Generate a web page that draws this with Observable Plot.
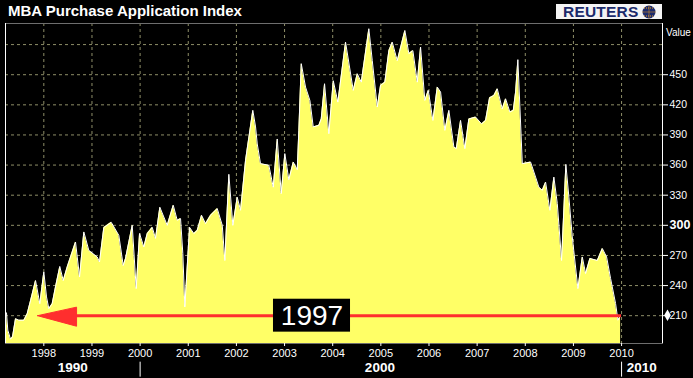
<!DOCTYPE html>
<html>
<head>
<meta charset="utf-8">
<script src="https://cdn.jsdelivr.net/npm/d3@7"></script>
<script src="https://cdn.jsdelivr.net/npm/@observablehq/plot@0.6"></script>
<style>
  html, body { margin: 0; padding: 0; background: #000; }
  #wrap { position: relative; width: 693px; height: 378px; overflow: hidden; background: #000; font-family: "Liberation Sans", Arial, sans-serif; }
  #title { position: absolute; left: 8px; top: 2px; color: #fff; font-size: 15px; font-weight: bold; white-space: nowrap; }
  #logo { position: absolute; left: 556px; top: 4px; width: 106px; height: 15px; background: #f4f4f4; display: flex; align-items: center; }
  #logo span { color: #1b2a6b; font-weight: bold; font-size: 15.5px; margin-left: 7px; letter-spacing: 0.2px; line-height: 15px; }
  #logo svg { margin-left: 3px; }
  #valueLbl { position: absolute; left: 666px; top: 27px; color: #fff; font-size: 10px; }
</style>
</head>
<body>
<div id="wrap">
  <div id="chart"></div>
  <div id="title">MBA Purchase Application Index</div>
  <div id="logo"><span>REUTERS</span><svg width="16" height="14" viewBox="0 0 16 14"><circle cx="8" cy="7" r="6.5" fill="#1b2a6b"/><path d="M8 0.5 V13.5 M1.5 7 H14.5 M3 3 H13 M3 11 H13" stroke="#f0a020" stroke-width="1" stroke-dasharray="1,1"/></svg></div>
  <div id="valueLbl">Value</div>
</div>
<script>
// Weekly index readings (decimal year, index value)
const dates = [1997.225,1997.252,1997.308,1997.350,1997.412,1997.481,1997.585,1997.655,1997.724,1997.828,1997.917,1998.000,1998.056,1998.104,1998.174,1998.243,1998.332,1998.403,1998.486,1998.658,1998.742,1998.831,1998.935,1999.109,1999.157,1999.246,1999.400,1999.558,1999.649,1999.697,1999.836,1999.919,1999.988,2000.077,2000.148,2000.252,2000.320,2000.410,2000.563,2000.688,2000.771,2000.840,2000.887,2000.929,2001.027,2001.116,2001.187,2001.276,2001.359,2001.463,2001.602,2001.706,2001.760,2001.843,2001.926,2002.017,2002.086,2002.190,2002.341,2002.398,2002.433,2002.501,2002.674,2002.765,2002.848,2002.931,2003.006,2003.089,2003.181,2003.264,2003.297,2003.347,2003.436,2003.526,2003.596,2003.712,2003.762,2003.831,2003.920,2004.012,2004.107,2004.267,2004.427,2004.510,2004.593,2004.751,2004.822,2004.926,2004.994,2005.083,2005.167,2005.237,2005.341,2005.499,2005.582,2005.665,2005.757,2005.825,2005.914,2005.985,2006.081,2006.172,2006.241,2006.330,2006.413,2006.517,2006.567,2006.656,2006.745,2006.828,2006.968,2007.092,2007.175,2007.258,2007.348,2007.418,2007.522,2007.591,2007.680,2007.751,2007.799,2007.846,2007.888,2007.938,2008.110,2008.214,2008.282,2008.353,2008.422,2008.511,2008.594,2008.665,2008.754,2008.843,2008.906,2008.976,2009.093,2009.184,2009.253,2009.342,2009.496,2009.600,2009.689,2009.772,2009.876,2009.924,2009.980];
const values = [212.8,195.6,186.6,189,207,205.5,205.5,212,225,245,222,253.6,228.7,217,222,238.7,259,245,258.6,283.4,248.6,293.4,275,268.5,263.5,297.8,303,290,260,267,300,237,291.8,278.5,291.8,298,287,318,300,320,305,306.7,272,218.8,298,291.8,295,310,301.7,310,316.7,300,265,350.8,300,328,315,364.7,414.5,398,381,361.4,359.8,338,386,331.6,371.4,345.5,363,355.5,394.6,461,437.7,424.4,398,399.6,406,441,391.3,444,422.7,482.4,434.4,451,442.6,495.8,464,417.8,439.4,442.6,474,482.4,464,494,471,474,442.6,477.5,424.4,434.4,404.5,437.7,432.7,394.6,414.5,378,376.4,404.5,376.4,406,407.8,401,404.5,427,429.4,436,416,426,412.8,414.5,432.7,465,417.8,361.4,363,348,338,334.9,343,315,348,321.6,265,360.7,328,288.4,237,268.5,252,267,265,276.9,268.5,247,222,205.5,210.5];

const yearTicks = [1998,1999,2000,2001,2002,2003,2004,2005,2006,2007,2008,2009,2010];
const valueTicks = [210,240,270,330,360,390,420,450];
const boldTicks = [300];
const gridValues = [210,240,270,300,330,360,390,420,450,480];
const decadeLabels = ["1990","2000","2010"];
const decadePos = [1998.6, 2004.98, 2010.42];
const decadeSeps = [2000, 2010];
const sepRange = [163.7, 148.8];

// annotation: reference level 1997 drawn as red arrow
const annoLevel = 210;
const annoLine = [1998.6, 2010.0];
const arrowHead = [[1997.87, 210], [1998.68, 218.5], [1998.68, 199.5]];
const annoText = "1997";
const annoTextX = 2003.57;
const annoBox = [2002.77, 2004.37, 193.6, 226.4];

const xDomain = [1997.204, 2010.85];
const yDomain = [182.3, 501];

const data = dates.map((d, i) => ({date: d, value: values[i]}));
const gridColor = "#8e8e68";

const chart = Plot.plot({
  width: 693,
  height: 378,
  marginTop: 23,
  marginBottom: 35,
  marginLeft: 5,
  marginRight: 31,
  style: {background: "#000", color: "#fff", fontFamily: "'Liberation Sans', Arial, sans-serif"},
  x: {domain: xDomain, axis: null},
  y: {domain: yDomain, axis: null},
  marks: [
    Plot.gridX(yearTicks, {stroke: gridColor, strokeOpacity: 1, strokeDasharray: "3,3"}),
    Plot.gridY(gridValues, {stroke: gridColor, strokeOpacity: 1, strokeDasharray: "3,3"}),
    Plot.areaY(data, {x: "date", y: "value", fill: "#ffff66", clip: true}),
    Plot.line(data, {x: "date", y: "value", stroke: "#fff", strokeWidth: 1}),
    Plot.frame({stroke: "#6e6e6e"}),
    Plot.ruleX([xDomain[0], xDomain[1]], {stroke: "#fff"}),
    Plot.axisX(yearTicks, {anchor: "bottom", label: null, tickSize: 3, tickPadding: 3, fontSize: 11, tickFormat: d => String(d), fill: "#fff", stroke: "#fff"}),
    Plot.axisY(valueTicks, {anchor: "right", label: null, tickSize: 5, tickPadding: 2, fontSize: 10.5, tickFormat: d => String(d), fill: "#fff", stroke: "#fff"}),
    Plot.axisY(boldTicks, {anchor: "right", label: null, tickSize: 5, tickPadding: 2, fontSize: 12.5, fontWeight: "bold", tickFormat: d => String(d), fill: "#fff", stroke: "#fff"}),
    Plot.text(decadeLabels, {x: (d, i) => decadePos[i], text: d => d, frameAnchor: "bottom", dy: 28, fontSize: 13.5, fontWeight: "bold", fontFamily: "'Liberation Sans Narrow', 'Liberation Sans', sans-serif", fill: "#fff"}),
    Plot.ruleX(decadeSeps, {y1: sepRange[0], y2: sepRange[1], stroke: "#fff", strokeWidth: 1}),
    Plot.ruleY([annoLevel], {x1: annoLine[0], x2: annoLine[1], stroke: "#ff2e2e", strokeWidth: 3}),
    Plot.line(arrowHead.concat([arrowHead[0]]), {x: d => d[0], y: d => d[1], fill: "#ff2e2e", stroke: "#ff2e2e", strokeWidth: 1}),
    Plot.rect([annoBox], {x1: d => d[0], x2: d => d[1], y1: d => d[2], y2: d => d[3], fill: "#000"}),
    Plot.text([annoText], {x: annoTextX, y: annoLevel, text: d => d, fill: "#fff", fontSize: 28}),
    Plot.dot([values[values.length - 1]], {y: d => d, frameAnchor: "right", dx: 5, symbol: "diamond", r: 3.5, fill: "#fff"})
  ]
});
document.getElementById("chart").appendChild(chart);
</script>
</body>
</html>
